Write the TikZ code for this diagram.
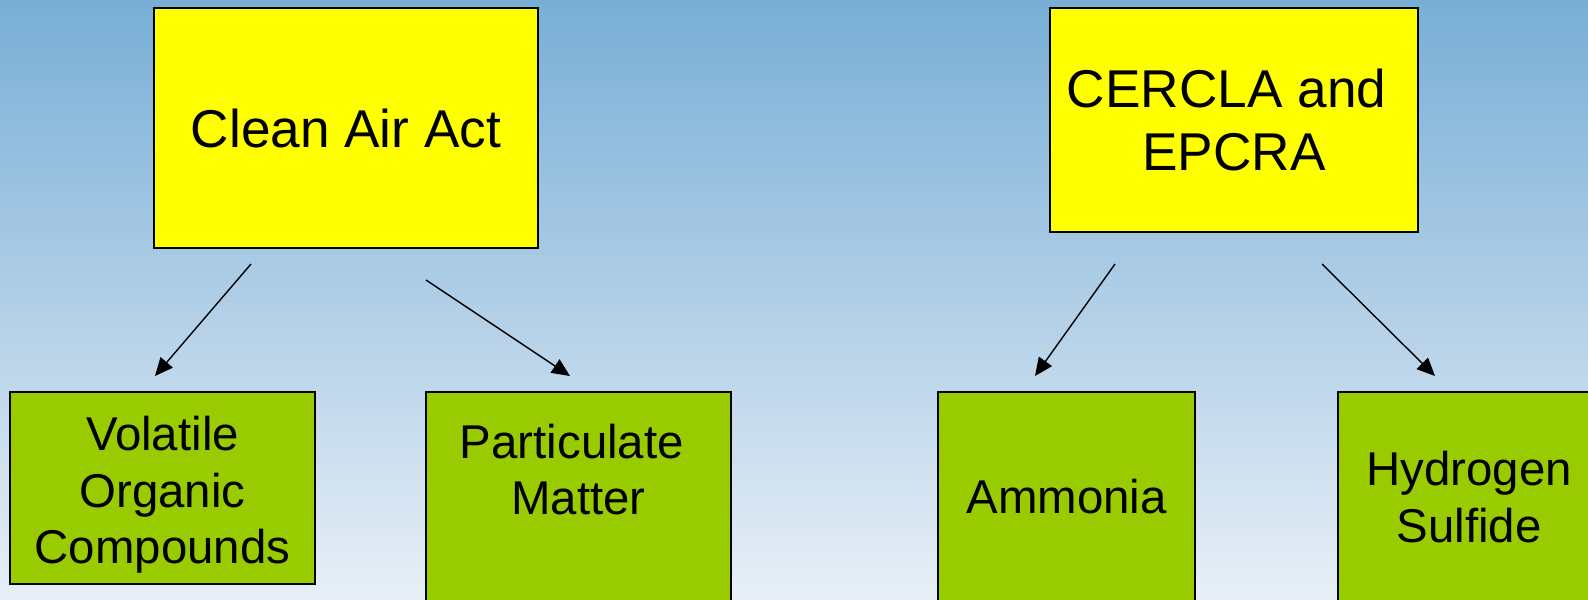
\documentclass[tikz,border=0pt]{standalone}
\usepackage{fontspec}
\setmainfont{Liberation Sans}
\usetikzlibrary{arrows.meta,positioning}
\definecolor{actyellow}{HTML}{FFFF00}
\definecolor{pollgreen}{HTML}{99CC00}
\definecolor{skytop}{RGB}{120,174,214}
\definecolor{skybottom}{RGB}{232,239,247}

\tikzset{
  lawbox/.style={draw=black, line width=0.75pt, fill=actyellow, inner sep=0pt,
    align=center, font=\fontsize{26.6}{31.5}\selectfont},
  pollbox/.style={draw=black, line width=0.75pt, fill=pollgreen, inner sep=0pt,
    align=center, font=\fontsize{23.7}{28.3}\selectfont},
  polltext/.style={inner sep=0pt, align=center, font=\fontsize{23.7}{28.3}\selectfont},
  link/.style={line width=0.7pt, -{Triangle[length=9pt,width=8pt]}}
}

\begin{document}
\begin{tikzpicture}[x=0.5pt,y=-0.5pt]
  % Fondo
  \useasboundingbox (0,0) rectangle (1588,599);
  \clip (0,0) rectangle (1588,599);
  \shade[top color=skytop, bottom color=skybottom] (0,0) rectangle (1588,599);

  % Leyes
  \node[lawbox, minimum width=192pt, minimum height=120pt] (caa) at (346,128) {Clean Air Act};
  \node[lawbox, minimum width=184pt, minimum height=112pt] (cercla) at (1234,120) {CERCLA and\phantom{\ }\\EPCRA};

  % Contaminantes
  \node[pollbox, minimum width=152.5pt, minimum height=96pt] (voc) at (162.5,488) {};
  \node[polltext, yshift=-3.5pt] (voctext) at (voc) {Volatile\\Organic\\Compounds};
  \node[pollbox, minimum width=152.5pt, minimum height=114pt] (pm) at (578.5,506) {};
  \node[polltext, below=16pt of pm.north] (pmtext) {Particulate\phantom{\ }\\Matter};
  \node[pollbox, minimum width=128.5pt, minimum height=105pt] (nh3) at (1066.5,497) {Ammonia};
  \node[pollbox, minimum width=131pt, minimum height=105pt] (h2s) at (1469,497) {Hydrogen\\Sulfide};

  % Flechas
  \coordinate (caa-l) at (251,264);
  \coordinate (caa-r) at (426,280);
  \coordinate (cercla-l) at (1115,264);
  \coordinate (cercla-r) at (1322,264);
  \coordinate (voc-in) at (155,376);
  \coordinate (pm-in) at (570,376);
  \coordinate (nh3-in) at (1035,376);
  \coordinate (h2s-in) at (1435,376);
  \draw[link] (caa-l) -- (voc-in);
  \draw[link] (caa-r) -- (pm-in);
  \draw[link] (cercla-l) -- (nh3-in);
  \draw[link] (cercla-r) -- (h2s-in);
\end{tikzpicture}
\end{document}
